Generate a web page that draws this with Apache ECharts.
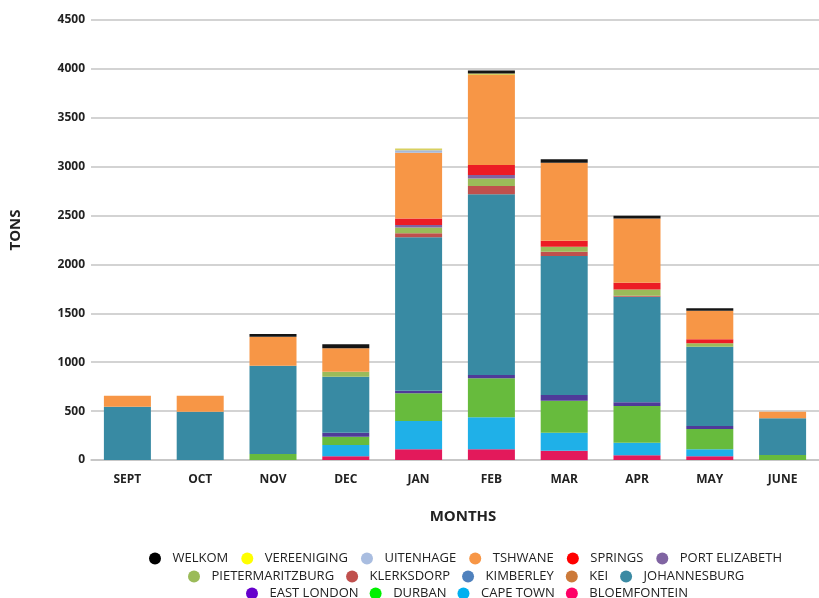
<!DOCTYPE html>
<html>
<head>
<meta charset="utf-8">
<script src="https://cdn.jsdelivr.net/npm/echarts@6/dist/echarts.min.js"></script>
<style>
html,body{margin:0;padding:0;background:#fff;}
#chart{width:819px;height:598px;}
</style>
</head>
<body>
<div id="chart"></div>
<script>
// ---- data ----
const months = ['SEPT','OCT','NOV','DEC','JAN','FEB','MAR','APR','MAY','JUNE'];
const yTicks = [0,500,1000,1500,2000,2500,3000,3500,4000,4500];

const bloemfontein     = [0,   0,   0,   38,  109,  110,  95,   48,   38,  0];
const capeTown         = [0,   0,   0,   115, 290,  327,  184,  129,  71,  0];
const durban           = [0,   0,   61,  85,  283,  398,  327,  375,  208, 51];
const eastLondon       = [0,   0,   0,   41,  27,   34,   59,   38,   31,  0];
const johannesburg     = [545, 494, 903, 573, 1568, 1848, 1421, 1080, 810, 375];
const kei              = [0,   0,   0,   0,   0,    0,    0,    0,    0,   0];
const kimberley        = [0,   0,   0,   0,   0,    0,    0,    0,    0,   0];
const klerksdorp       = [0,   0,   0,   0,   41,   85,   44,   10,   0,   0];
const pietermaritzburg = [0,   0,   0,   51,  61,   78,   51,   65,   35,  0];
const portElizabeth    = [0,   0,   0,   0,   25,   34,   0,    0,    0,   0];
const springs          = [0,   0,   0,   0,   67,   102,  61,   68,   41,  0];
const tshwane          = [112, 163, 297, 239, 671,  921,  798,  658,  293, 68];
const uitenhage        = [0,   0,   0,   0,   25,   0,    0,    0,    0,   0];
const vereeniging      = [0,   0,   0,   0,   20,   17,   0,    0,    0,   0];
const welkom           = [0,   0,   27,  41,  0,    30,   35,   27,   24,  0];

// stacking order bottom -> top
const seriesDefs = [
  {name:'BLOEMFONTEIN', data:bloemfontein, color:'#e3195b', legend:'#ff0066'},
  {name:'CAPE TOWN', data:capeTown, color:'#1fb0e8', legend:'#00b0f0'},
  {name:'DURBAN', data:durban, color:'#67bb3d', legend:'#00f000'},
  {name:'EAST LONDON', data:eastLondon, color:'#4f3a99', legend:'#6600cc'},
  {name:'JOHANNESBURG', data:johannesburg, color:'#388aa3', legend:'#3b8aa3'},
  {name:'KEI', data:kei, color:'#cc7a3a', legend:'#cc7a3a'},
  {name:'KIMBERLEY', data:kimberley, color:'#4f81bd', legend:'#4f81bd'},
  {name:'KLERKSDORP', data:klerksdorp, color:'#c0504d', legend:'#c0504d'},
  {name:'PIETERMARITZBURG', data:pietermaritzburg, color:'#9bbb59', legend:'#9bbb59'},
  {name:'PORT ELIZABETH', data:portElizabeth, color:'#8064a2', legend:'#8064a2'},
  {name:'SPRINGS', data:springs, color:'#ec1c24', legend:'#ff0000'},
  {name:'TSHWANE', data:tshwane, color:'#f79646', legend:'#f79646'},
  {name:'UITENHAGE', data:uitenhage, color:'#a6b8da', legend:'#a9bde0'},
  {name:'VEREENIGING', data:vereeniging, color:'#d8d060', legend:'#ffff00'},
  {name:'WELKOM', data:welkom, color:'#151515', legend:'#000000'}
];

const legendRows = [
  ['WELKOM','VEREENIGING','UITENHAGE','TSHWANE','SPRINGS','PORT ELIZABETH'],
  ['PIETERMARITZBURG','KLERKSDORP','KIMBERLEY','KEI','JOHANNESBURG'],
  ['EAST LONDON','DURBAN','CAPE TOWN','BLOEMFONTEIN']
];

const FONT = 'Open Sans';
const legendColor = {};
seriesDefs.forEach(s => legendColor[s.name] = s.legend);

function makeLegend(row, left, top, gap) {
  return {
    left: left, top: top, orient: 'horizontal',
    icon: 'circle', itemWidth: 25, itemHeight: 12, itemGap: gap,
    padding: 0,
    selectedMode: false,
    textStyle: {fontFamily: FONT, fontSize: 13, color: '#222'},
    data: row.map(n => ({name: n, itemStyle: {color: legendColor[n]}}))
  };
}

const chart = echarts.init(document.getElementById('chart'), null, {renderer: 'canvas'});
chart.setOption({
  animation: false,
  backgroundColor: '#ffffff',
  grid: {left: 88, right: 0, top: 20, bottom: 138, containLabel: false},
  legend: [
    makeLegend(legendRows[0], 149, 552, 13),
    makeLegend(legendRows[1], 188, 570, 12),
    makeLegend(legendRows[2], 246, 587, 11)
  ],
  xAxis: {
    type: 'category',
    data: months,
    name: 'MONTHS',
    nameLocation: 'middle',
    nameGap: 49,
    nameTextStyle: {fontFamily: FONT, fontSize: 15, fontWeight: 'bold', color: '#222', padding: [0, 0, 0, 16]},
    axisLine: {show: true, lineStyle: {color: '#c4c4c4', width: 1.5}},
    axisTick: {show: false},
    axisLabel: {fontFamily: FONT, fontSize: 12, fontWeight: 'bold', color: '#222', margin: 14}
  },
  yAxis: {
    type: 'value',
    min: yTicks[0],
    max: yTicks[yTicks.length - 1],
    interval: yTicks[1] - yTicks[0],
    name: 'TONS',
    nameLocation: 'middle',
    nameGap: 68,
    nameRotate: 90,
    nameTextStyle: {fontFamily: FONT, fontSize: 15, fontWeight: 'bold', color: '#222', padding: [0, 0, 0, 20]},
    axisLine: {show: false},
    axisTick: {show: false},
    axisLabel: {fontFamily: FONT, fontSize: 12, fontWeight: 'bold', color: '#222', margin: 6,
      formatter: v => String(v)},
    splitLine: {show: true, lineStyle: {color: '#c4c4c4', width: 1.5}}
  },
  series: seriesDefs.map(s => ({
    name: s.name,
    type: 'bar',
    stack: 'total',
    barWidth: 47,
    data: s.data,
    itemStyle: {color: s.color}
  }))
});
</script>
</body>
</html>
